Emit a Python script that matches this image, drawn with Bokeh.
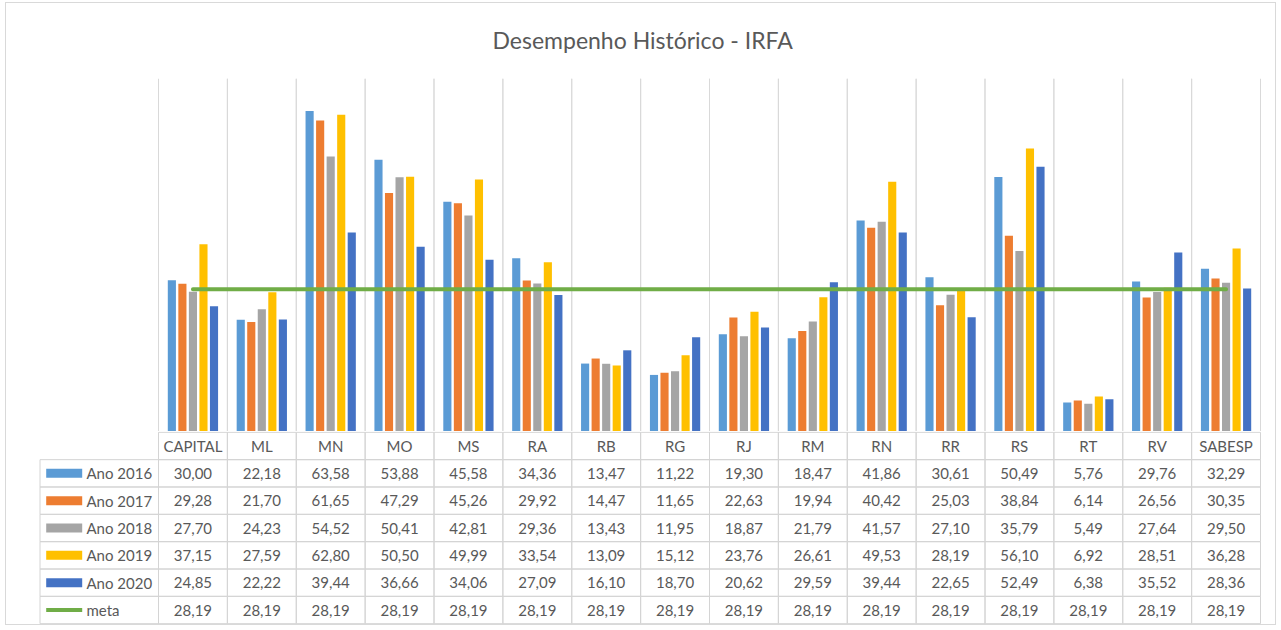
from bokeh.plotting import figure
from bokeh.models import ColumnDataSource, Range1d
from bokeh.transform import dodge
from bokeh.layouts import column
from bokeh.core.properties import value
from bokeh.embed import file_html
from bokeh.resources import INLINE

# ---------------- data ----------------
categories = ["CAPITAL", "ML", "MN", "MO", "MS", "RA", "RB", "RG", "RJ", "RM",
              "RN", "RR", "RS", "RT", "RV", "SABESP"]
series_names = ["Ano 2016", "Ano 2017", "Ano 2018", "Ano 2019", "Ano 2020"]
ano_2016 = [30.00, 22.18, 63.58, 53.88, 45.58, 34.36, 13.47, 11.22, 19.30, 18.47,
            41.86, 30.61, 50.49, 5.76, 29.76, 32.29]
ano_2017 = [29.28, 21.70, 61.65, 47.29, 45.26, 29.92, 14.47, 11.65, 22.63, 19.94,
            40.42, 25.03, 38.84, 6.14, 26.56, 30.35]
ano_2018 = [27.70, 24.23, 54.52, 50.41, 42.81, 29.36, 13.43, 11.95, 18.87, 21.79,
            41.57, 27.10, 35.79, 5.49, 27.64, 29.50]
ano_2019 = [37.15, 27.59, 62.80, 50.50, 49.99, 33.54, 13.09, 15.12, 23.76, 26.61,
            49.53, 28.19, 56.10, 6.92, 28.51, 36.28]
ano_2020 = [24.85, 22.22, 39.44, 36.66, 34.06, 27.09, 16.10, 18.70, 20.62, 29.59,
            39.44, 22.65, 52.49, 6.38, 35.52, 28.36]
meta_name = "meta"
meta = [28.19, 28.19, 28.19, 28.19, 28.19, 28.19, 28.19, 28.19, 28.19, 28.19,
        28.19, 28.19, 28.19, 28.19, 28.19, 28.19]
title_text = "Desempenho Histórico - IRFA"

# ---------------- style ----------------
series = [ano_2016, ano_2017, ano_2018, ano_2019, ano_2020]
colors = ["#5B9BD5", "#ED7D31", "#A5A5A5", "#FFC000", "#4472C4"]
meta_color = "#70AD47"
TEXT = "#595959"
GRID = "#d9d9d9"
FONT = "Lato"

W = 1269
CHART_H = 428
TABLE_H = 193
COL_W = 68.875          # px per category
CAT0 = 152              # figure-x of the first category boundary
BL, BR = 31, 12         # figure borders (identical for both figures)
FRAME_W = W - BL - BR
Y_MAX = 70

def fmt(v):
    return f"{v:.2f}".replace(".", ",")

x_start = (BL - CAT0) / COL_W
x_end = x_start + FRAME_W / COL_W
xr = Range1d(x_start, x_end)

# positions of the categories on the shared numeric scale
xpos = [j + 0.5 for j in range(len(categories))]

# ---------------- chart ----------------
p = figure(width=W, height=CHART_H, x_range=xr, y_range=Range1d(0, Y_MAX),
           output_backend="svg", toolbar_location=None,
           min_border_left=BL, min_border_right=BR, min_border_top=74,
           min_border_bottom=0, title=title_text)
p.xaxis.visible = False
p.yaxis.visible = False
p.xgrid.visible = False
p.ygrid.visible = False
p.outline_line_color = None
p.background_fill_color = "white"
p.border_fill_color = "white"
p.title.align = "left"
p.title.offset = 455
p.title.vertical_align = "top"
p.title.text_font = FONT
p.title.text_font_size = "23px"
p.title.text_font_style = "normal"
p.title.text_color = TEXT
p.title.standoff = 45

data = dict(cat=categories, x=xpos)
for name, vals in zip(series_names, series):
    data[name] = vals
data["meta"] = meta
src = ColumnDataSource(data)

# category separators
p.segment(x0=dodge("x", -0.5), x1=dodge("x", -0.5), y0=0, y1=Y_MAX,
          source=src, line_color=GRID, line_width=1)
p.segment(x0=dodge("x", 0.5), x1=dodge("x", 0.5), y0=0, y1=Y_MAX,
          source=src, line_color=GRID, line_width=1)

STEP = 0.153
BW = 0.118
for i, (name, col) in enumerate(zip(series_names, colors)):
    p.vbar(x=dodge("x", (i - 2) * STEP), top=name, width=BW,
           source=src, fill_color=col, line_color=None)

p.line(x="x", y="meta", source=src, line_color=meta_color, line_width=4,
       line_cap="round")

# ---------------- table ----------------
t = figure(width=W, height=TABLE_H, x_range=xr,
           y_range=Range1d(7.03, -0.03), output_backend="svg",
           toolbar_location=None, min_border_left=BL, min_border_right=BR,
           min_border_top=0, min_border_bottom=0)
t.axis.visible = False
t.grid.visible = False
t.outline_line_color = None
t.border_fill_color = "white"

row_names = series_names + [meta_name]
row_vals = series + [meta]

cx, cy, cw = [], [], []
tx, ty, tt = [], [], []
for j, c in enumerate(categories):
    cx.append(xpos[j]); cy.append(0.5); cw.append(1)
    tx.append(xpos[j]); ty.append(0.5); tt.append(c)
LEG_L = (33.5 - CAT0) / COL_W
for k, vals in enumerate(row_vals, start=1):
    cx.append(LEG_L / 2); cy.append(k + 0.5); cw.append(-LEG_L)
    for j, v in enumerate(vals):
        cx.append(xpos[j]); cy.append(k + 0.5); cw.append(1)
        tx.append(xpos[j]); ty.append(k + 0.5); tt.append(fmt(v))

t.rect(x=cx, y=cy, width=cw, height=1, fill_color=None, line_color="#d4d4d4",
       line_width=1)
t.text(x=tx, y=ty, text=tt, text_align="center", text_baseline="middle",
       text_font=value(FONT), text_font_size="15px", text_color=TEXT)

KEY_X = (57.7 - CAT0) / COL_W
LAB_X = (80 - CAT0) / COL_W
ky = [k + 0.5 for k in range(1, len(series_names) + 1)]
t.rect(x=KEY_X, y=ky, width=36, height=9, width_units="screen",
       height_units="screen", fill_color=colors, line_color=None)
t.rect(x=KEY_X, y=len(series_names) + 1.5, width=36, height=4,
       width_units="screen", height_units="screen", fill_color=meta_color,
       line_color=None)
t.text(x=LAB_X, y=[k + 0.5 for k in range(1, len(row_names) + 1)], text=row_names,
       text_align="left", text_baseline="middle", text_font=value(FONT),
       text_font_size="15px", text_color=TEXT)

layout = column(p, t, spacing=0,
                styles={"border": "1px solid #d9d9d9", "margin": "2px 0 0 5px"})

open("out.html", "w").write(file_html(layout, INLINE))
